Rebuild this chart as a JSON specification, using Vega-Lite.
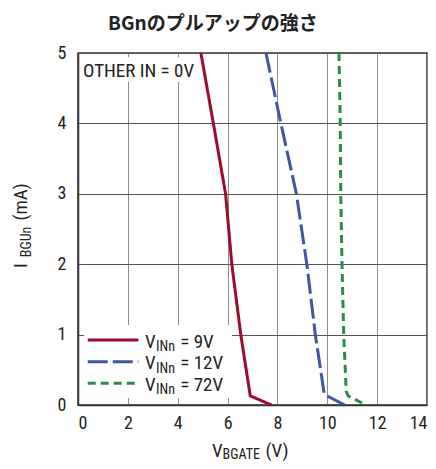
{
  "$schema": "https://vega.github.io/schema/vega-lite/v6.json",
  "autosize": "none",
  "width": 349,
  "height": 352,
  "padding": {"left": 78, "top": 53, "right": 9, "bottom": 64},
  "background": "white",
  "title": {
    "text": "BGnのプルアップの強さ",
    "font": "Noto Sans CJK JP",
    "fontSize": 19,
    "fontWeight": "bold",
    "color": "#222",
    "anchor": "start",
    "frame": "group",
    "dx": 30,
    "offset": 10
  },
  "config": {
    "view": {"stroke": "#333", "strokeWidth": 1.5},
    "axis": {
      "labelFont": "Liberation Sans Narrow, Roboto Condensed, DejaVu Sans Condensed, sans-serif",
      "labelFontSize": 18,
      "labelFontWeight": "normal",
      "labelColor": "#222",
      "domainColor": "#333",
      "domainWidth": 1.5,
      "ticks": false,
      "title": null
    },
    "text": {"font": "Liberation Sans Narrow, Roboto Condensed, DejaVu Sans Condensed, sans-serif", "fontWeight": "normal", "color": "#222"}
  },
  "datasets": {
    "curves": [
      {"v": 4.93, "i": 5, "s": "9V"},
      {"v": 5.43, "i": 4, "s": "9V"},
      {"v": 5.92, "i": 3, "s": "9V"},
      {"v": 6.17, "i": 2, "s": "9V"},
      {"v": 6.53, "i": 1, "s": "9V"},
      {"v": 6.91, "i": 0.13, "s": "9V"},
      {"v": 7.76, "i": 0, "s": "9V"},
      {"v": 7.54, "i": 5, "s": "12V"},
      {"v": 8.14, "i": 4, "s": "12V"},
      {"v": 8.76, "i": 3, "s": "12V"},
      {"v": 9.18, "i": 2, "s": "12V"},
      {"v": 9.52, "i": 1, "s": "12V"},
      {"v": 9.88, "i": 0.15, "s": "12V"},
      {"v": 10.7, "i": 0, "s": "12V"},
      {"v": 10.47, "i": 5, "s": "72V"},
      {"v": 10.52, "i": 4, "s": "72V"},
      {"v": 10.54, "i": 3, "s": "72V"},
      {"v": 10.59, "i": 2, "s": "72V"},
      {"v": 10.66, "i": 1, "s": "72V"},
      {"v": 10.76, "i": 0.19, "s": "72V"},
      {"v": 10.84, "i": 0.13, "s": "72V"},
      {"v": 11.55, "i": 0, "s": "72V"}
    ],
    "one": [{"k": 1}]
  },
  "layer": [
    {
      "data": {"name": "one"},
      "mark": {"type": "rect", "fill": "white"},
      "encoding": {
        "x": {"datum": 0.08, "type": "quantitative", "scale": {"domain": [0, 14]}, "axis": {"values": [0, 2, 4, 6, 8, 10, 12, 14], "grid": true, "gridColor": "#8c8c8c", "gridWidth": 1, "labelPadding": 9, "zindex": 0}},
        "x2": {"datum": 4.9},
        "y": {"datum": 4.94, "type": "quantitative", "scale": {"domain": [0, 5]}, "axis": {"values": [0, 1, 2, 3, 4, 5], "format": "d", "grid": true, "gridColor": "#555", "gridWidth": 1, "labelPadding": 12, "zindex": 0}},
        "y2": {"datum": 4.59}
      }
    },
    {
      "data": {"name": "one"},
      "mark": {"type": "rect", "fill": "white"},
      "encoding": {
        "x": {"datum": 0.24, "type": "quantitative"},
        "x2": {"datum": 6.18},
        "y": {"datum": 1.136, "type": "quantitative"},
        "y2": {"datum": 0.1}
      }
    },
    {
      "data": {"name": "curves"},
      "mark": {"type": "line", "strokeWidth": 3, "strokeCap": "butt", "clip": true},
      "encoding": {
        "x": {"field": "v", "type": "quantitative"},
        "y": {"field": "i", "type": "quantitative"},
        "color": {"field": "s", "type": "nominal", "scale": {"domain": ["9V", "12V", "72V"], "range": ["#9E0B2E", "#3D56A6", "#2A8C47"]}, "legend": null},
        "strokeDash": {"field": "s", "type": "nominal", "scale": {"domain": ["9V", "12V", "72V"], "range": [[1, 0], [20, 5], [8, 5]]}, "legend": null}
      }
    },
    {
      "data": {"name": "one"},
      "mark": {"type": "text", "fontSize": 19, "align": "left", "baseline": "alphabetic"},
      "encoding": {"x": {"datum": 0.2, "type": "quantitative"}, "y": {"datum": 4.66, "type": "quantitative"}, "text": {"value": "OTHER IN = 0V"}}
    },
    {
      "data": {"name": "one"},
      "mark": {"type": "rule", "stroke": "#9E0B2E", "strokeWidth": 3},
      "encoding": {"x": {"datum": 0.39, "type": "quantitative"}, "x2": {"datum": 2.42}, "y": {"datum": 0.923, "type": "quantitative"}}
    },
    {
      "data": {"name": "one"},
      "mark": {"type": "rule", "stroke": "#3D56A6", "strokeWidth": 3, "strokeDash": [20, 5]},
      "encoding": {"x": {"datum": 0.39, "type": "quantitative"}, "x2": {"datum": 2.42}, "y": {"datum": 0.615, "type": "quantitative"}}
    },
    {
      "data": {"name": "one"},
      "mark": {"type": "rule", "stroke": "#2A8C47", "strokeWidth": 3, "strokeDash": [8, 5]},
      "encoding": {"x": {"datum": 0.39, "type": "quantitative"}, "x2": {"datum": 2.42}, "y": {"datum": 0.308, "type": "quantitative"}}
    },
    {
      "data": {"name": "one"},
      "mark": {"type": "text", "fontSize": 19, "align": "left", "baseline": "alphabetic"},
      "encoding": {"x": {"datum": 2.69, "type": "quantitative"}, "y": {"datum": 0.814, "type": "quantitative"}, "text": {"value": "V"}}
    },
    {
      "data": {"name": "one"},
      "mark": {"type": "text", "fontSize": 14, "align": "left", "baseline": "alphabetic"},
      "encoding": {"x": {"datum": 3.13, "type": "quantitative"}, "y": {"datum": 0.767, "type": "quantitative"}, "text": {"value": "INn"}}
    },
    {
      "data": {"name": "one"},
      "mark": {"type": "text", "fontSize": 19, "align": "left", "baseline": "alphabetic"},
      "encoding": {"x": {"datum": 4.1, "type": "quantitative"}, "y": {"datum": 0.814, "type": "quantitative"}, "text": {"value": "= 9V"}}
    },
    {
      "data": {"name": "one"},
      "mark": {"type": "text", "fontSize": 19, "align": "left", "baseline": "alphabetic"},
      "encoding": {"x": {"datum": 2.69, "type": "quantitative"}, "y": {"datum": 0.506, "type": "quantitative"}, "text": {"value": "V"}}
    },
    {
      "data": {"name": "one"},
      "mark": {"type": "text", "fontSize": 14, "align": "left", "baseline": "alphabetic"},
      "encoding": {"x": {"datum": 3.13, "type": "quantitative"}, "y": {"datum": 0.459, "type": "quantitative"}, "text": {"value": "INn"}}
    },
    {
      "data": {"name": "one"},
      "mark": {"type": "text", "fontSize": 19, "align": "left", "baseline": "alphabetic"},
      "encoding": {"x": {"datum": 4.1, "type": "quantitative"}, "y": {"datum": 0.506, "type": "quantitative"}, "text": {"value": "= 12V"}}
    },
    {
      "data": {"name": "one"},
      "mark": {"type": "text", "fontSize": 19, "align": "left", "baseline": "alphabetic"},
      "encoding": {"x": {"datum": 2.69, "type": "quantitative"}, "y": {"datum": 0.199, "type": "quantitative"}, "text": {"value": "V"}}
    },
    {
      "data": {"name": "one"},
      "mark": {"type": "text", "fontSize": 14, "align": "left", "baseline": "alphabetic"},
      "encoding": {"x": {"datum": 3.13, "type": "quantitative"}, "y": {"datum": 0.152, "type": "quantitative"}, "text": {"value": "INn"}}
    },
    {
      "data": {"name": "one"},
      "mark": {"type": "text", "fontSize": 19, "align": "left", "baseline": "alphabetic"},
      "encoding": {"x": {"datum": 4.1, "type": "quantitative"}, "y": {"datum": 0.199, "type": "quantitative"}, "text": {"value": "= 72V"}}
    },
    {
      "data": {"name": "one"},
      "mark": {"type": "text", "fontSize": 19, "align": "left", "baseline": "alphabetic"},
      "encoding": {"x": {"datum": 5.375, "type": "quantitative"}, "y": {"datum": -0.734, "type": "quantitative"}, "text": {"value": "V"}}
    },
    {
      "data": {"name": "one"},
      "mark": {"type": "text", "fontSize": 14, "align": "left", "baseline": "alphabetic"},
      "encoding": {"x": {"datum": 5.8, "type": "quantitative"}, "y": {"datum": -0.771, "type": "quantitative"}, "text": {"value": "BGATE"}}
    },
    {
      "data": {"name": "one"},
      "mark": {"type": "text", "fontSize": 19, "align": "left", "baseline": "alphabetic"},
      "encoding": {"x": {"datum": 7.52, "type": "quantitative"}, "y": {"datum": -0.734, "type": "quantitative"}, "text": {"value": "(V)"}}
    },
    {
      "data": {"name": "one"},
      "mark": {"type": "text", "fontSize": 19, "align": "left", "baseline": "alphabetic", "angle": 270},
      "encoding": {"x": {"datum": -2.05, "type": "quantitative"}, "y": {"datum": 1.946, "type": "quantitative"}, "text": {"value": "I"}}
    },
    {
      "data": {"name": "one"},
      "mark": {"type": "text", "fontSize": 14, "align": "left", "baseline": "alphabetic", "angle": 270},
      "encoding": {"x": {"datum": -1.905, "type": "quantitative"}, "y": {"datum": 2.1, "type": "quantitative"}, "text": {"value": "BGUn"}}
    },
    {
      "data": {"name": "one"},
      "mark": {"type": "text", "fontSize": 19, "align": "left", "baseline": "alphabetic", "angle": 270},
      "encoding": {"x": {"datum": -2.05, "type": "quantitative"}, "y": {"datum": 2.62, "type": "quantitative"}, "text": {"value": "(mA)"}}
    }
  ]
}
